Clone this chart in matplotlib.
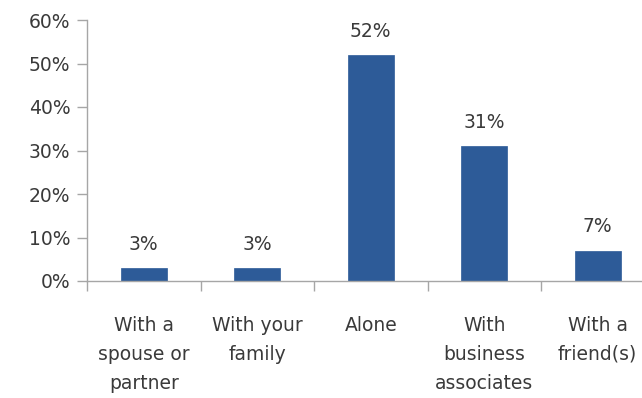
import matplotlib
matplotlib.use("Agg")
import matplotlib.pyplot as plt
from matplotlib.ticker import FixedLocator, PercentFormatter

categories = ["With a\nspouse or\npartner", "With your\nfamily", "Alone",
              "With\nbusiness\nassociates", "With a\nfriend(s)"]
values = [3, 3, 52, 31, 7]
y_ticks = [0, 10, 20, 30, 40, 50, 60]

bar_color = "#2D5B98"
text_color = "#3A3A3A"
axis_color = "#A6A6A6"

plt.rcParams['font.family'] = ['DejaVu Sans']
fig = plt.figure(figsize=(6.42, 3.98), dpi=100)
ax = fig.add_axes([87/642, 117/398, (654.5-87)/642, 261/398])

x = list(range(len(categories)))
bars = ax.bar(x, values, width=0.405, color=bar_color, edgecolor=bar_color, linewidth=0.5)

for xi, v in zip(x, values):
    ax.annotate(f"{v}%", (xi, v), xytext=(0, 13), textcoords="offset points",
                ha="center", va="baseline", fontsize=13.5, color=text_color)

ax.set_xlim(-0.5, len(categories) - 0.5)
ax.set_ylim(0, 60)
ax.set_yticks(y_ticks)
ax.yaxis.set_major_formatter(PercentFormatter(decimals=0))

ax.set_xticks(x)
ax.set_xticklabels(categories, fontsize=13.5, color=text_color, linespacing=1.68)
ax.xaxis.set_minor_locator(FixedLocator([i - 0.5 for i in range(len(categories) + 1)]))
ax.tick_params(axis="x", which="major", length=0, pad=25)
ax.tick_params(axis="x", which="minor", length=7, color=axis_color, width=1, direction="out")
ax.tick_params(axis="y", length=7, color=axis_color, width=1, labelsize=13.5,
               labelcolor=text_color, pad=5)

for side in ["top", "right"]:
    ax.spines[side].set_visible(False)
for side in ["left", "bottom"]:
    ax.spines[side].set_color(axis_color)
    ax.spines[side].set_linewidth(1)

fig.savefig("out.png", dpi=100)
